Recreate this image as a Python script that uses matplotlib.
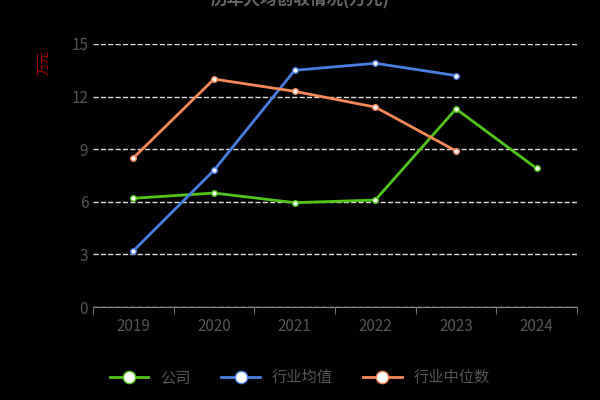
import matplotlib
matplotlib.use('Agg')
import matplotlib.pyplot as plt
plt.rcParams['font.family'] = ['Noto Sans CJK SC', 'DejaVu Sans']

years = ['2019', '2020', '2021', '2022', '2023', '2024']
company = [6.2, 6.5, 5.95, 6.1, 11.3, 7.9]
ind_avg = [3.2, 7.8, 13.5, 13.9, 13.2]
ind_med = [8.5, 13.0, 12.3, 11.4, 8.9]

fig = plt.figure(figsize=(6, 4), dpi=100, facecolor='black')
ax = fig.add_axes([93/600, 1-307/400, (577-93)/600, (307-44)/400], facecolor='black')
x = list(range(len(years)))
ax.plot(x, company, color='#52c41a', lw=2, marker='o', ms=4, mfc='white', mec='#52c41a', label='公司')
ax.plot(x[:5], ind_avg, color='#4a7fe0', lw=2, marker='o', ms=4, mfc='white', mec='#4a7fe0', label='行业均值')
ax.plot(x[:5], ind_med, color='#f5895a', lw=2, marker='o', ms=4, mfc='white', mec='#f5895a', label='行业中位数')
ax.set_xlim(-0.5, 5.5)
ax.set_ylim(0, 15)
ax.set_yticks([0, 3, 6, 9, 12, 15])
ax.set_xticks(x)
ax.set_xticklabels(years)
ax.set_xticks([i - 0.5 for i in range(7)], minor=True)
ax.tick_params(axis='x', which='major', length=0, colors='#555555', labelsize=11, pad=8)
ax.tick_params(axis='x', which='minor', length=5, color='#888888')
ax.tick_params(axis='y', length=0, colors='#555555', labelsize=11)
ax.grid(axis='y', ls='--', color='#dddddd', lw=1)
for s in ['top', 'right', 'left']:
    ax.spines[s].set_visible(False)
ax.spines['bottom'].set_color('#888888')
ax.text(-0.1, 0.93, '万元', transform=ax.transAxes, color='#aa0000', fontsize=9, rotation=90, ha='center', va='center')
fig.text(0.5, 1.0, '历年人均创收情况(万元)', color='#666666', fontsize=12, ha='center', va='center', fontweight='bold')
leg = fig.legend(loc='lower center', bbox_to_anchor=(0.5, 0.0), ncol=3, frameon=False, fontsize=11, markerscale=2.2, handlelength=2.5)
for t in leg.get_texts():
    t.set_color('#555555')
fig.savefig('out.png', facecolor='black')
